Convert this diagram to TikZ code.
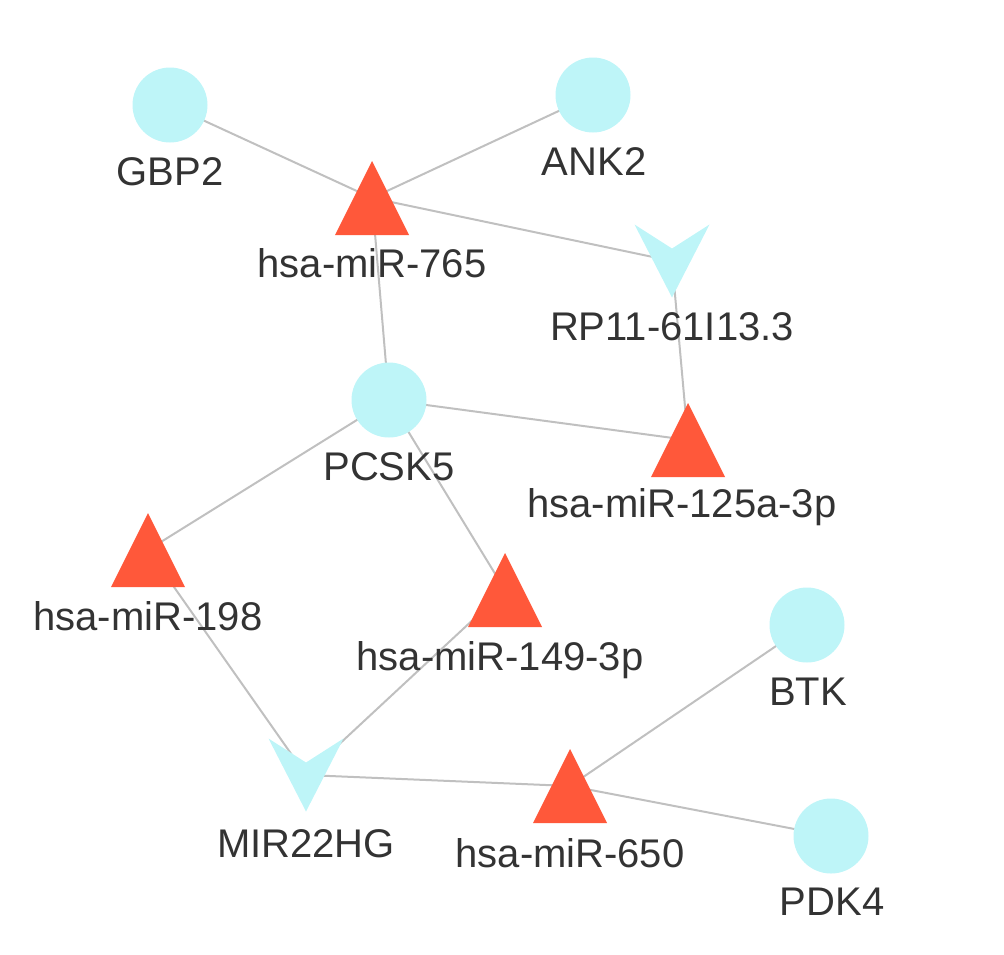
\documentclass[tikz,border=0pt]{standalone}
\usepackage{fontspec}
\setmainfont{Liberation Sans}
\usetikzlibrary{backgrounds}
\definecolor{genecyan}{RGB}{190,245,248}
\definecolor{mirred}{RGB}{255,88,58}
\definecolor{linkgray}{RGB}{192,192,192}
\definecolor{txtgray}{RGB}{51,51,51}

\begin{document}
\begin{tikzpicture}[x=1pt, y=-1pt,
  gene/.style={circle, fill=genecyan, minimum size=75pt, inner sep=0pt},
  mirna/.style={rectangle, minimum width=74pt, minimum height=74pt, inner sep=0pt,
    path picture={\fill[mirred] (path picture bounding box.south west)
      -- (path picture bounding box.north)
      -- (path picture bounding box.south east) -- cycle;}},
  lnc/.style={rectangle, minimum width=75pt, minimum height=73pt, inner sep=0pt,
    path picture={\fill[genecyan] (path picture bounding box.north west)
      -- ([yshift=-24pt]path picture bounding box.north)
      -- (path picture bounding box.north east)
      -- (path picture bounding box.south) -- cycle;}},
  lbl/.style={font=\fontsize{40}{48}\selectfont, text=txtgray, anchor=base, inner sep=0pt},
  link/.style={draw=linkgray, line width=2pt}]
  \useasboundingbox (0,0) rectangle (1004,954);

  % nodes
  \node[gene] (gbp2) at (170,105) {};
  \node[gene] (ank2) at (593,95) {};
  \node[mirna] (m765) at (372,198) {};
  \node[lnc] (rp11) at (672,261) {};
  \node[gene] (pcsk5) at (389,400) {};
  \node[mirna] (m125) at (688,440) {};
  \node[mirna] (m198) at (148,550) {};
  \node[mirna] (m149) at (505,590) {};
  \node[gene] (btk) at (807,625) {};
  \node[lnc] (mir22) at (306,775) {};
  \node[mirna] (m650) at (570,786) {};
  \node[gene] (pdk4) at (831,836) {};

  % labels
  \node[lbl] (gbp2-l) at (170,185) {GBP2};
  \node[lbl] (ank2-l) at (594,175) {ANK2};
  \node[lbl] (m765-l) at (372,277) {hsa-miR-765};
  \node[lbl] (rp11-l) at (672,340) {RP11-61I13.3};
  \node[lbl] (pcsk5-l) at (389,480) {PCSK5};
  \node[lbl] (m125-l) at (682,517) {hsa-miR-125a-3p};
  \node[lbl] (m198-l) at (148,630) {hsa-miR-198};
  \node[lbl] (m149-l) at (500,670) {hsa-miR-149-3p};
  \node[lbl] (btk-l) at (808,705) {BTK};
  \node[lbl] (mir22-l) at (306,857) {MIR22HG};
  \node[lbl] (m650-l) at (570,867) {hsa-miR-650};
  \node[lbl] (pdk4-l) at (832,915) {PDK4};

  % interactions
  \begin{scope}[on background layer]
    \draw[link] (gbp2.center) -- (m765.center);
    \draw[link] (ank2.center) -- (m765.center);
    \draw[link] (m765.center) -- (rp11.center);
    \draw[link] (m765.center) -- (pcsk5.center);
    \draw[link] (rp11.center) -- (m125.center);
    \draw[link] (pcsk5.center) -- (m125.center);
    \draw[link] (pcsk5.center) -- (m198.center);
    \draw[link] (pcsk5.center) -- (m149.center);
    \draw[link] (m198.center) -- (mir22.center);
    \draw[link] (m149.center) -- (mir22.center);
    \draw[link] (mir22.center) -- (m650.center);
    \draw[link] (m650.center) -- (btk.center);
    \draw[link] (m650.center) -- (pdk4.center);
  \end{scope}
\end{tikzpicture}
\end{document}
